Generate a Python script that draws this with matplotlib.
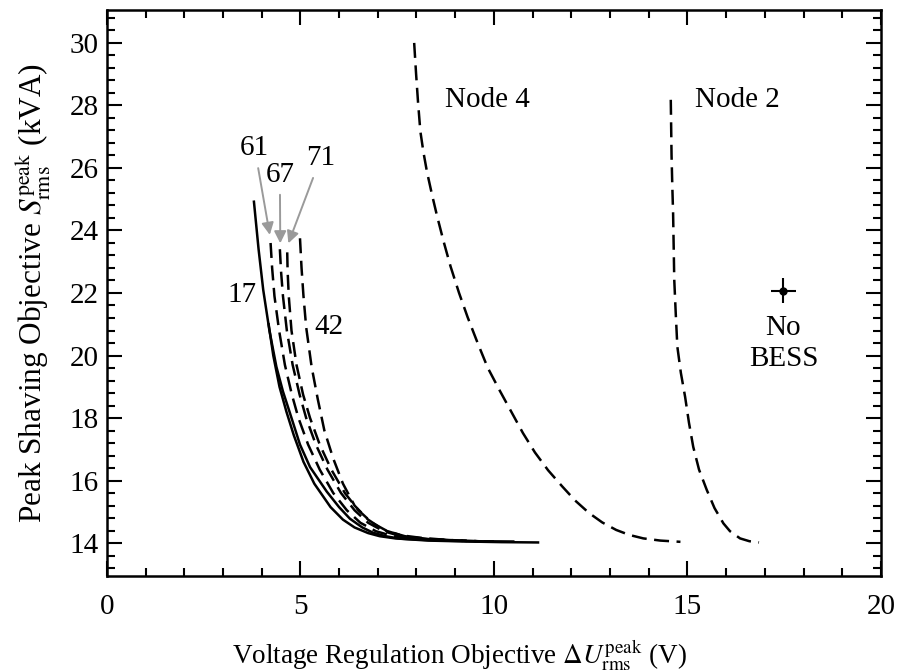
import matplotlib
matplotlib.use("Agg")
import matplotlib.pyplot as plt
from matplotlib.ticker import MultipleLocator, AutoMinorLocator

plt.rcParams['font.family'] = ['Liberation Serif', 'DejaVu Serif']
plt.rcParams['mathtext.fontset'] = 'stix'

# Pareto fronts: voltage deviation (V) vs. peak apparent power (kVA)
x17 = [3.80, 3.92, 4.04, 4.20, 4.38, 4.55, 4.73, 4.99, 5.25, 5.68, 6.00, 6.28, 6.60, 6.88, 7.20, 7.57, 8.30, 9.30, 10.20, 11.14]
y17 = [24.92, 23.40, 22.10, 20.80, 19.64, 18.85, 18.16, 17.15, 16.43, 15.65, 15.15, 14.78, 14.50, 14.33, 14.22, 14.14, 14.08, 14.05, 14.03, 14.02]

x_other = [4.18, 4.30, 4.46, 4.64, 4.83, 5.08, 5.36, 5.78, 6.10, 6.40, 6.75, 7.05, 7.45, 7.90, 8.60, 9.50, 10.50]
y_other = [21.00, 20.00, 19.00, 18.20, 17.45, 16.60, 15.90, 15.15, 14.75, 14.50, 14.32, 14.22, 14.15, 14.12, 14.08, 14.06, 14.05]

x61 = [4.23, 4.27, 4.33, 4.45, 4.60, 4.78, 4.95, 5.20, 5.50, 5.85, 6.20, 6.55, 6.95, 7.40, 8.00, 9.00, 10.00]
y61 = [23.60, 22.80, 21.90, 20.80, 19.70, 18.75, 18.00, 17.15, 16.35, 15.60, 15.05, 14.65, 14.38, 14.22, 14.14, 14.08, 14.05]

x67 = [4.47, 4.50, 4.55, 4.65, 4.80, 4.98, 5.15, 5.40, 5.70, 6.05, 6.40, 6.75, 7.15, 7.60, 8.20, 9.20]
y67 = [23.40, 22.70, 21.90, 20.80, 19.70, 18.75, 18.00, 17.15, 16.35, 15.60, 15.05, 14.65, 14.38, 14.22, 14.13, 14.07]

x71 = [4.66, 4.67, 4.70, 4.77, 4.90, 5.07, 5.25, 5.50, 5.80, 6.15, 6.50, 6.85, 7.25, 7.70, 8.30, 9.30]
y71 = [23.30, 22.70, 21.90, 20.80, 19.70, 18.75, 18.00, 17.15, 16.35, 15.60, 15.05, 14.65, 14.38, 14.22, 14.13, 14.07]

x42 = [4.99, 5.03, 5.08, 5.15, 5.29, 5.45, 5.62, 5.85, 6.10, 6.40, 6.75, 7.15, 7.60, 8.10, 8.80, 9.60]
y42 = [23.75, 22.80, 21.90, 20.90, 19.64, 18.60, 17.60, 16.70, 15.90, 15.20, 14.75, 14.42, 14.25, 14.17, 14.10, 14.06]

x_node4 = [7.94, 7.99, 8.04, 8.10, 8.18, 8.27, 8.40, 8.53, 8.70, 8.88, 9.10, 9.32, 9.58, 9.84, 10.15, 10.45, 10.75,
           11.06, 11.40, 11.76, 12.10, 12.46, 12.80, 13.16, 13.50, 13.86, 14.30, 14.82]
y_node4 = [30.00, 29.00, 28.10, 27.17, 26.50, 25.88, 25.15, 24.47, 23.65, 22.85, 22.00, 21.23, 20.40, 19.61, 18.88, 18.20, 17.52,
           16.90, 16.33, 15.82, 15.36, 14.96, 14.66, 14.42, 14.26, 14.15, 14.08, 14.04]

x_node2 = [14.57, 14.58, 14.59, 14.61, 14.63, 14.66, 14.70, 14.74, 14.83, 14.94, 15.04, 15.15, 15.30, 15.50, 15.70, 15.93, 16.10,
           16.36, 16.60, 16.85]
y_node2 = [28.18, 27.30, 26.40, 25.40, 24.55, 22.42, 21.30, 20.28, 19.45, 18.68, 17.85, 17.08, 16.35, 15.70, 15.12, 14.63, 14.38,
           14.15, 14.06, 14.02]

# reference case without storage
x_nobess, y_nobess = 17.48, 22.07
xerr_nobess, yerr_nobess = 0.32, 0.40

fig = plt.figure(figsize=(8.98, 6.72), dpi=100)
ax = fig.add_axes([0.119, 0.143, 0.862, 0.842])

lw = 1.8
dash = (0, (6, 3))
ax.plot(x17, y17, color='black', lw=lw)
ax.plot(x_other, y_other, color='black', lw=lw)
for xs, ys in [(x61, y61), (x67, y67), (x71, y71), (x42, y42), (x_node4, y_node4), (x_node2, y_node2)]:
    ax.plot(xs, ys, color='black', lw=lw, linestyle=dash)

ax.errorbar(x_nobess, y_nobess, xerr=xerr_nobess, yerr=yerr_nobess, fmt='o',
            color='black', ms=5, elinewidth=1.5, capsize=0)

fs = 21
ax.text(3.48, 21.94, '17', fontsize=fs, ha='center', va='center')
ax.text(5.75, 20.92, '42', fontsize=fs, ha='center', va='center')
ax.text(8.73, 28.18, 'Node 4', fontsize=fs, ha='left', va='center')
ax.text(15.19, 28.18, 'Node 2', fontsize=fs, ha='left', va='center')
ax.text(x_nobess, 20.4, 'No\nBESS', fontsize=fs, ha='center', va='center', linespacing=1.25)

arrow = dict(arrowstyle='-|>', color='#9a9a9a', lw=1.4, mutation_scale=18, shrinkA=3, shrinkB=0)
ax.annotate('61', xy=(4.21, 23.86), xytext=(3.82, 26.63), fontsize=fs,
            ha='center', va='center', arrowprops=arrow)
ax.annotate('67', xy=(4.48, 23.59), xytext=(4.47, 25.78), fontsize=fs,
            ha='center', va='center', arrowprops=arrow)
ax.annotate('71', xy=(4.69, 23.59), xytext=(5.52, 26.31), fontsize=fs,
            ha='center', va='center', arrowprops=arrow)

ax.set_xlim(0, 20)
ax.set_ylim(12.95, 31.05)
ax.xaxis.set_major_locator(MultipleLocator(5))
ax.xaxis.set_minor_locator(AutoMinorLocator(5))
ax.yaxis.set_major_locator(MultipleLocator(2))
ax.yaxis.set_minor_locator(AutoMinorLocator(5))
ax.tick_params(which='both', direction='in', top=True, right=True, width=1.5, labelsize=fs)
ax.tick_params(which='major', length=11)
ax.tick_params(which='minor', length=5.5)
ax.tick_params(axis='x', pad=13)
ax.tick_params(axis='y', pad=6)
for s in ax.spines.values():
    s.set_linewidth(1.8)

ax.set_xlabel(r'Voltage Regulation Objective $\Delta U_{\mathrm{rms}}^{\mathrm{peak}}$ (V)', fontsize=19.5, labelpad=13)
ax.xaxis.label.set_x(0.456)
ax.set_ylabel(r'Peak Shaving Objective $S_{\mathrm{rms}}^{\mathrm{peak}}$ (kVA)', fontsize=22.5, labelpad=12)

fig.savefig('out.png', dpi=100)
